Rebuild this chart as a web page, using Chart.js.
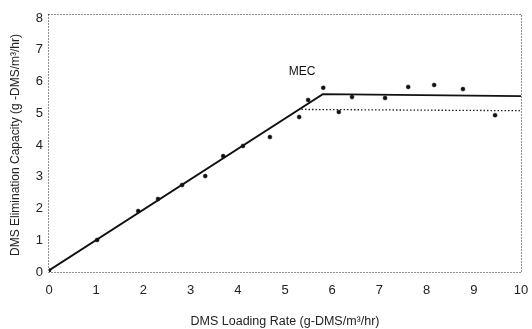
<!DOCTYPE html>
<html>
<head>
<meta charset="utf-8">
<script src="https://cdn.jsdelivr.net/npm/chart.js@4"></script>
<style>
  html, body { margin: 0; padding: 0; background: #fff; }
  #wrap { width: 532px; height: 329px; }
</style>
</head>
<body>
<div id="wrap"><canvas id="myChart"></canvas></div>
<script>
// measured points (loading rate, elimination capacity)
var loadX = [0, 1.02, 1.89, 2.31, 2.82, 3.31, 3.69, 4.11, 4.68, 5.30, 5.49, 5.81, 6.14, 6.42, 7.12, 7.61, 8.16, 8.77, 9.45];
var elimY = [0.05, 1.01, 1.92, 2.30, 2.74, 3.02, 3.65, 3.97, 4.25, 4.88, 5.42, 5.80, 5.04, 5.51, 5.48, 5.83, 5.89, 5.76, 4.94];

// fitted solid line
var fitX = [0, 5.8, 10];
var fitY = [0.05, 5.6, 5.54];

// dotted line
var dotX = [5.35, 10];
var dotY = [5.12, 5.08];

var xTicks = [0, 1, 2, 3, 4, 5, 6, 7, 8, 9, 10];
var yTicks = [0, 1, 2, 3, 4, 5, 6, 7, 8];

var mecLabel = { text: 'MEC', x: 5.36, y: 6.3 };

function pts(xs, ys) {
  return xs.map(function (v, i) { return { x: v, y: ys[i] }; });
}

var framePlugin = {
  id: 'frame',
  afterDraw: function (chart) {
    var a = chart.chartArea, ctx = chart.ctx;
    ctx.save();
    ctx.strokeStyle = '#222';
    ctx.lineWidth = 1;
    ctx.setLineDash([1, 2]);
    ctx.strokeRect(a.left - 0.5, a.top - 3.5, a.right - a.left + 1, a.bottom - a.top + 4);
    ctx.setLineDash([]);
    // MEC label
    ctx.fillStyle = '#111';
    ctx.font = '12px "Liberation Sans", Arial, sans-serif';
    ctx.textAlign = 'center';
    ctx.textBaseline = 'middle';
    ctx.fillText(mecLabel.text, chart.scales.x.getPixelForValue(mecLabel.x), chart.scales.y.getPixelForValue(mecLabel.y));
    ctx.restore();
  }
};

Chart.defaults.font.family = '"Liberation Sans", Arial, sans-serif';
Chart.defaults.color = '#222';

new Chart("myChart", {
  type: "scatter",
  data: {
    datasets: [{
      data: pts(loadX, elimY),
      showLine: false,
      pointRadius: 2,
      pointBackgroundColor: '#111',
      pointBorderColor: '#111',
      pointBorderWidth: 0.5
    }, {
      data: pts(fitX, fitY),
      showLine: true,
      borderColor: '#111',
      borderWidth: 1.8,
      pointRadius: 0,
      fill: false,
      tension: 0
    }, {
      data: pts(dotX, dotY),
      showLine: true,
      borderColor: '#222',
      borderWidth: 1.3,
      borderDash: [1.5, 2],
      pointRadius: 0,
      fill: false,
      tension: 0
    }]
  },
  options: {
    responsive: true,
    maintainAspectRatio: false,
    animation: false,
    layout: { padding: { top: 18, right: 11, left: 0, bottom: 0 } },
    plugins: { legend: { display: false }, tooltip: { enabled: false } },
    scales: {
      x: {
        type: 'linear',
        min: 0,
        max: 10,
        grid: { display: false, drawTicks: false },
        border: { display: false },
        afterBuildTicks: function (s) { s.ticks = xTicks.map(function (v) { return { value: v }; }); },
        afterFit: function (s) { s.height = 57; s.paddingLeft = 0; s.paddingRight = 0; },
        ticks: { padding: 11, font: { size: 13 }, maxRotation: 0 },
        title: {
          display: true,
          text: 'DMS Loading Rate (g-DMS/m³/hr)',
          font: { size: 12.5 },
          padding: { top: 0, bottom: 0 }
        }
      },
      y: {
        type: 'linear',
        min: 0,
        max: 8,
        grid: { display: false, drawTicks: false },
        border: { display: false },
        afterBuildTicks: function (s) { s.ticks = yTicks.map(function (v) { return { value: v }; }); },
        afterFit: function (s) { s.width = 49; s.paddingTop = 0; s.paddingBottom = 0; },
        ticks: { padding: 6, font: { size: 13 } },
        title: {
          display: true,
          text: 'DMS Elimination Capacity (g -DMS/m³/hr)',
          font: { size: 12 },
          padding: { top: 8, bottom: 0 }
        }
      }
    }
  },
  plugins: [framePlugin]
});
</script>
</body>
</html>
